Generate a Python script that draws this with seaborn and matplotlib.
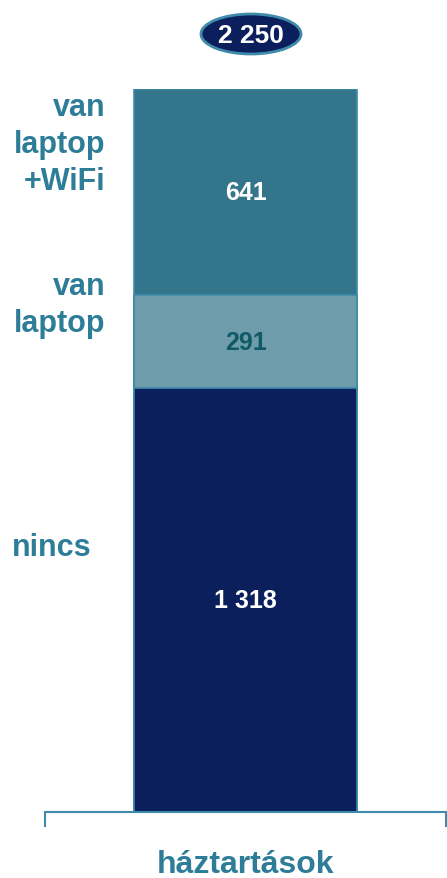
import seaborn as sns
import matplotlib.pyplot as plt
import numpy as np
import pandas as pd
from matplotlib.patches import Ellipse

sns.set_theme(style="white")
plt.rcParams["font.family"] = ["Liberation Sans", "DejaVu Sans"]

# data (bottom -> top)
segments = ["nincs", "van\nlaptop", "van\nlaptop\n+WiFi"]
values = [1318, 291, 641]
group = "háztartások"
total_label = "2 250"

colors = ["#0b1f5c", "#6f9caa", "#33758a"]
value_colors = ["white", "#0e5a66", "white"]
label_color = "#2e7d98"
edge_color = "#3f8bab"

tops = np.cumsum(values)
bottoms = tops - np.array(values)

fig = plt.figure(figsize=(4.47, 8.79), dpi=100)
ax = fig.add_axes([45 / 447, 1 - 813 / 879, 401 / 447, 723 / 879])

# stacked bar: draw cumulative heights from the tallest down
for i in range(len(values) - 1, -1, -1):
    df = pd.DataFrame({"g": [group], "v": [tops[i]]})
    sns.barplot(data=df, x="g", y="v", color=colors[i], width=0.5586,
                edgecolor=edge_color, linewidth=1.2, saturation=1, ax=ax)

ax.set_xlim(-0.5, 0.5)
ax.set_ylim(0, tops[-1])

# value labels inside segments
for i, v in enumerate(values):
    ax.text(0, (bottoms[i] + tops[i]) / 2, f"{v:,}".replace(",", " "),
            ha="center", va="center", color=value_colors[i],
            fontsize=18, fontweight="bold")

# segment names on the left
ax.text(-0.35, 2079, segments[2], ha="right", va="center", color=label_color,
        fontsize=22, fontweight="bold", linespacing=1.3, clip_on=False)
ax.text(-0.35, 1578, segments[1], ha="right", va="center", color=label_color,
        fontsize=22, fontweight="bold", linespacing=1.3, clip_on=False)
ax.text(-0.582, 825, segments[0], ha="left", va="center", color=label_color,
        fontsize=22, fontweight="bold", clip_on=False)

# total bubble
ell = Ellipse((251 / 447, 1 - 35 / 879), 100 / 447, 40 / 879,
              transform=fig.transFigure, facecolor="#0b1f5c",
              edgecolor="#3f8bab", linewidth=2)
fig.patches.append(ell)
fig.text(251 / 447, 1 - 36 / 879, total_label, ha="center", va="center",
         color="white", fontsize=19, fontweight="bold")

# axis styling
for side in ["top", "left", "right"]:
    ax.spines[side].set_visible(False)
ax.spines["bottom"].set_color(edge_color)
ax.spines["bottom"].set_linewidth(1.5)
ax.set_yticks([])
ax.set_xticks([-0.5, 0.5])
ax.set_xticklabels(["", ""])
ax.tick_params(axis="x", direction="out", length=11, width=1.5,
               color=edge_color, bottom=True)
ax.set_xlabel(group, color=label_color, fontsize=23, fontweight="bold",
              labelpad=12)
ax.set_ylabel("")

fig.savefig("out.png", dpi=100)
